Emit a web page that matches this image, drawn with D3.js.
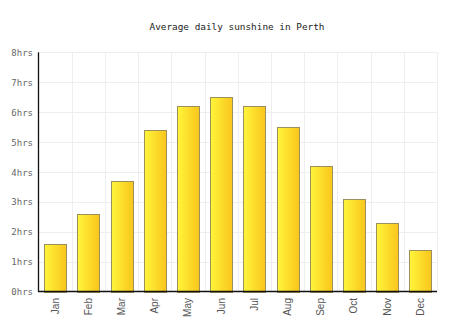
<!DOCTYPE html>
<html><head><meta charset="utf-8">
<script src="https://cdn.jsdelivr.net/npm/d3@7"></script>
<style>body{margin:0;background:#fff}svg{display:block}</style>
</head><body>
<svg id="c" width="474" height="331"></svg>
<script>
const months = ["Jan","Feb","Mar","Apr","May","Jun","Jul","Aug","Sep","Oct","Nov","Dec"];
const sunshine = [1.6,2.6,3.7,5.4,6.2,6.5,6.2,5.5,4.2,3.1,2.3,1.4];
const yTicks = [0,1,2,3,4,5,6,7,8];
const title = "Average daily sunshine in Perth";

const svg = d3.select("#c");
const m = {l:38.5, r:437, t:52.3, b:291.7};
const x = d3.scaleBand().domain(months).range([m.l, m.r]).paddingInner(0.34).paddingOuter(0.17);
const xg = d3.scaleBand().domain(months).range([m.l, m.r]);
const y = d3.scaleLinear().domain([0,8]).range([m.b, m.t]);

const defs = svg.append("defs");
const g = defs.append("linearGradient").attr("id","bg").attr("x1","0").attr("x2","1").attr("y1","0").attr("y2","0");
g.append("stop").attr("offset","0").attr("stop-color","#fff53a");
g.append("stop").attr("offset","1").attr("stop-color","#f9c51c");

svg.append("text").attr("x",237).attr("y",30).attr("text-anchor","middle")
  .attr("font-family","DejaVu Sans Mono").attr("font-size","9.4px").attr("fill","#222").text(title);

// grid
svg.append("g").selectAll("line.h").data(yTicks.slice(1)).join("line")
  .attr("x1",m.l).attr("x2",m.r).attr("y1",d=>Math.round(y(d))+0.5).attr("y2",d=>Math.round(y(d))+0.5)
  .attr("stroke","#eee").attr("stroke-width",1);
svg.append("g").selectAll("line.v").data(months).join("line")
  .attr("x1",d=>Math.round(xg(d)+xg.bandwidth())+0.5).attr("x2",d=>Math.round(xg(d)+xg.bandwidth())+0.5)
  .attr("y1",m.t).attr("y2",m.b).attr("stroke","#eee").attr("stroke-width",1);

// bars
svg.append("g").selectAll("rect").data(sunshine).join("rect")
  .attr("x",(d,i)=>Math.round(x(months[i]))+0.5)
  .attr("width",Math.round(x.bandwidth()))
  .attr("y",d=>Math.round(y(d))+0.5)
  .attr("height",d=>Math.round(m.b)-Math.round(y(d)))
  .attr("fill","url(#bg)").attr("stroke","#9c8f5e").attr("stroke-width",1);

// axes lines
svg.append("line").attr("x1",38.5).attr("x2",38.5).attr("y1",m.t).attr("y2",292).attr("stroke","#111").attr("stroke-width",1.3);
svg.append("line").attr("x1",38).attr("x2",m.r).attr("y1",291.5).attr("y2",291.5).attr("stroke","#111").attr("stroke-width",1.3);

// y labels
svg.append("g").selectAll("text").data(yTicks).join("text")
  .attr("x",33).attr("y",d=>y(d)+3.5).attr("text-anchor","end")
  .attr("font-family","DejaVu Sans Mono").attr("font-size","9px").attr("fill","#666")
  .text(d=>d+"hrs");

// x labels
svg.append("g").selectAll("text").data(months).join("text")
  .attr("transform",d=>`translate(${xg(d)+xg.bandwidth()/2+3.5},298) rotate(-90)`)
  .attr("text-anchor","end")
  .attr("font-family","Liberation Sans").attr("font-size","10px").attr("fill","#555")
  .text(d=>d);
</script>
</body></html>
